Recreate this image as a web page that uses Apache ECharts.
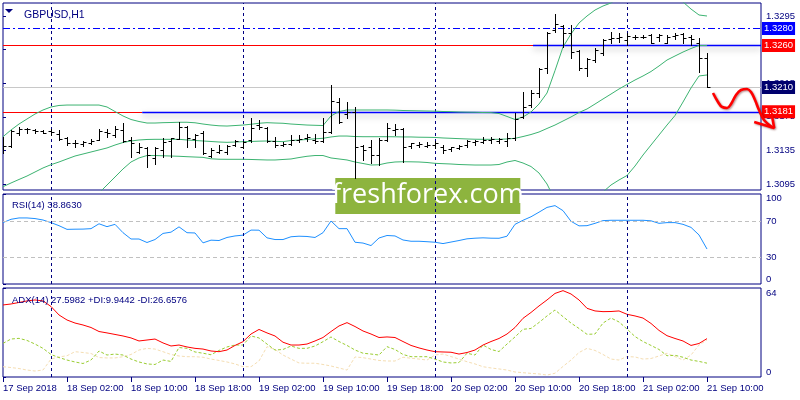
<!DOCTYPE html>
<html>
<head>
<meta charset="utf-8">
<script src="https://cdn.jsdelivr.net/npm/echarts@6/dist/echarts.min.js"></script>
<style>html,body{margin:0;padding:0;background:#fff}#c{width:800px;height:400px}</style>
</head>
<body>
<div id="c"></div>
<script>
// ---- data (hourly bars, GBPUSD H1) ----
const timeLabels = ['17 Sep 2018','18 Sep 02:00','18 Sep 10:00','18 Sep 18:00','19 Sep 02:00','19 Sep 10:00','19 Sep 18:00','20 Sep 02:00','20 Sep 10:00','20 Sep 18:00','21 Sep 02:00','21 Sep 10:00'];
const barsPerLabel = 8;
const daySeparators = [6, 30, 54, 78];

const open = [1.31379,1.31402,1.31561,1.31601,1.31593,1.31577,1.31581,1.31545,1.31494,1.31442,
1.31426,1.31442,1.31474,1.31573,1.31533,1.31593,1.31474,1.31335,1.31375,1.31256,
1.31355,1.31462,1.31486,1.31625,1.31486,1.31561,1.31283,1.31335,1.31335,1.31414,
1.31394,1.31474,1.31652,1.31613,1.31466,1.31414,1.31426,1.31474,1.31494,1.31474,
1.31462,1.31573,1.31930,1.31780,1.31804,1.31402,1.31394,1.31295,1.31474,1.31593,
1.31605,1.31406,1.31414,1.31406,1.31414,1.31387,1.31363,1.31375,1.31414,1.31454,
1.31454,1.31474,1.31466,1.31466,1.31494,1.31744,1.31890,1.32030,1.32327,1.32783,
1.32835,1.32744,1.32533,1.32335,1.32426,1.32506,1.32673,1.32685,1.32664,1.32696,
1.32696,1.32724,1.32696,1.32632,1.32712,1.32732,1.32696,1.32632,1.32446];
const high = [1.31513,1.31593,1.31625,1.31613,1.31605,1.31593,1.31608,1.31593,1.31513,1.31474,
1.31466,1.31482,1.31601,1.31601,1.31640,1.31673,1.31513,1.31435,1.31394,1.31394,
1.31494,1.31494,1.31692,1.31640,1.31545,1.31585,1.31375,1.31414,1.31414,1.31474,
1.31466,1.31732,1.31712,1.31632,1.31506,1.31454,1.31533,1.31533,1.31542,1.31542,
1.31732,1.32129,1.31970,1.31923,1.31870,1.31414,1.31474,1.31494,1.31673,1.31661,
1.31613,1.31435,1.31454,1.31454,1.31462,1.31414,1.31394,1.31414,1.31474,1.31474,
1.31513,1.31513,1.31494,1.31561,1.31799,1.32049,1.32069,1.32327,1.32763,1.32974,
1.32843,1.32843,1.32545,1.32446,1.32565,1.32673,1.32763,1.32744,1.32744,1.32724,
1.32724,1.32736,1.32736,1.32724,1.32744,1.32751,1.32724,1.32685,1.32506];
const low = [1.31316,1.31394,1.31533,1.31554,1.31554,1.31554,1.31533,1.31474,1.31414,1.31387,
1.31402,1.31426,1.31474,1.31513,1.31513,1.31454,1.31275,1.31323,1.31149,1.31188,
1.31275,1.31275,1.31482,1.31394,1.31394,1.31307,1.31268,1.31316,1.31307,1.31402,
1.31375,1.31454,1.31601,1.31454,1.31394,1.31402,1.31414,1.31454,1.31462,1.31435,
1.31454,1.31554,1.31673,1.31732,1.31018,1.31236,1.31196,1.31176,1.31462,1.31533,
1.31216,1.31375,1.31394,1.31394,1.31375,1.31323,1.31347,1.31363,1.31394,1.31414,
1.31442,1.31442,1.31442,1.31402,1.31474,1.31732,1.31870,1.31989,1.32268,1.32760,
1.32585,1.32446,1.32307,1.32236,1.32406,1.32486,1.32632,1.32644,1.32605,1.32673,
1.32685,1.32625,1.32656,1.32625,1.32673,1.32625,1.32605,1.32287,1.32100];
const close = [1.31402,1.31581,1.31601,1.31601,1.31585,1.31561,1.31573,1.31482,1.31442,1.31435,
1.31454,1.31466,1.31581,1.31554,1.31601,1.31466,1.31435,1.31394,1.31295,1.31375,
1.31454,1.31492,1.31632,1.31494,1.31533,1.31323,1.31355,1.31355,1.31402,1.31462,
1.31454,1.31613,1.31632,1.31462,1.31414,1.31426,1.31474,1.31486,1.31513,1.31466,
1.31573,1.31938,1.31692,1.31811,1.31394,1.31355,1.31295,1.31474,1.31613,1.31605,
1.31394,1.31435,1.31423,1.31414,1.31435,1.31355,1.31387,1.31402,1.31466,1.31462,
1.31474,1.31482,1.31482,1.31494,1.31720,1.31870,1.32030,1.32315,1.32751,1.32855,
1.32744,1.32525,1.32327,1.32435,1.32545,1.32664,1.32685,1.32696,1.32712,1.32704,
1.32704,1.32632,1.32724,1.32696,1.32724,1.32685,1.32673,1.32446,1.32100];

const bbMid = [1.30918,1.30962,1.31004,1.31045,1.31093,1.31141,1.31180,1.31212,1.31248,1.31283,
1.31307,1.31331,1.31355,1.31379,1.31414,1.31444,1.31462,1.31474,1.31480,1.31482,
1.31482,1.31482,1.31482,1.31474,1.31468,1.31462,1.31456,1.31450,1.31446,1.31450,
1.31454,1.31456,1.31460,1.31462,1.31458,1.31454,1.31468,1.31474,1.31480,1.31488,
1.31494,1.31510,1.31521,1.31521,1.31515,1.31513,1.31513,1.31513,1.31513,1.31512,
1.31510,1.31510,1.31507,1.31506,1.31504,1.31498,1.31494,1.31490,1.31486,1.31483,
1.31482,1.31482,1.31482,1.31486,1.31494,1.31515,1.31539,1.31569,1.31611,1.31652,
1.31700,1.31748,1.31801,1.31843,1.31902,1.31962,1.32021,1.32081,1.32135,1.32188,
1.32236,1.32289,1.32355,1.32426,1.32474,1.32521,1.32563,1.32599,1.32599];
const bbUp = [1.31513,1.31593,1.31664,1.31724,1.31783,1.31831,1.31867,1.31885,1.31890,1.31890,
1.31890,1.31890,1.31890,1.31867,1.31813,1.31760,1.31718,1.31694,1.31676,1.31676,
1.31680,1.31682,1.31685,1.31685,1.31679,1.31664,1.31652,1.31643,1.31640,1.31646,
1.31652,1.31661,1.31673,1.31680,1.31676,1.31673,1.31664,1.31658,1.31652,1.31649,
1.31646,1.31760,1.31813,1.31831,1.31831,1.31831,1.31831,1.31831,1.31831,1.31829,
1.31825,1.31823,1.31821,1.31819,1.31817,1.31813,1.31811,1.31807,1.31805,1.31804,
1.31801,1.31800,1.31789,1.31754,1.31718,1.31748,1.31807,1.31902,1.32033,1.32300,
1.32581,1.32736,1.32867,1.32950,1.33021,1.33069,1.33105,1.33164,1.33218,1.33212,
1.33176,1.33164,1.33176,1.33200,1.33182,1.33117,1.33033,1.32962,1.32950];
const bbLow = [1.30323,1.30331,1.30343,1.30367,1.30402,1.30450,1.30493,1.30539,1.30605,1.30676,
1.30724,1.30771,1.30843,1.30938,1.31033,1.31129,1.31212,1.31260,1.31289,1.31289,
1.31286,1.31283,1.31280,1.31275,1.31271,1.31267,1.31250,1.31245,1.31244,1.31244,
1.31244,1.31242,1.31239,1.31236,1.31236,1.31242,1.31248,1.31265,1.31280,1.31289,
1.31289,1.31260,1.31248,1.31236,1.31212,1.31194,1.31176,1.31179,1.31200,1.31212,
1.31215,1.31214,1.31212,1.31206,1.31196,1.31192,1.31188,1.31182,1.31179,1.31176,
1.31176,1.31176,1.31182,1.31212,1.31230,1.31200,1.31158,1.31081,1.30950,1.30760,
1.30581,1.30498,1.30462,1.30498,1.30640,1.30855,1.30938,1.30998,1.31051,1.31164,
1.31295,1.31414,1.31533,1.31652,1.31765,1.31926,1.32093,1.32236,1.32248];

const rsi = [68.2,71.9,73.4,73.4,72.7,71.1,68.2,64.8,60.7,60.9,
61.0,61.5,66.9,63.7,66.3,57.0,50.0,50.0,46.1,49.4,
56.2,57.6,63.5,57.0,56.7,45.7,48.7,48.3,51.7,53.4,
54.3,59.9,59.8,51.3,49.4,49.4,52.5,53.1,52.8,51.7,
57.0,70.0,61.5,61.5,46.4,45.5,42.7,51.1,53.9,53.4,
48.9,47.5,47.5,47.0,46.4,44.9,46.6,48.3,50.2,50.9,
51.3,50.9,50.8,53.1,66.3,70.8,74.7,79.8,85.1,87.1,
81.5,69.7,64.6,64.8,67.4,70.4,70.8,70.8,70.8,70.8,
70.8,70.2,67.4,68.2,68.2,66.3,62.9,54.5,38.863];
const adx = [51.8,52.5,53.6,54.7,55.4,54.7,50.7,44.6,41.0,38.8,
37.4,35.6,32.7,31.7,30.6,29.5,28.1,25.9,26.6,27.3,
24.5,22.3,23.0,21.6,20.6,20.1,18.7,18.2,19.4,22.7,
25.4,30.9,34.2,31.7,29.5,25.0,23.0,23.0,23.7,25.9,
28.4,32.7,36.7,39.1,36.3,33.1,30.9,28.4,28.8,28.4,
25.5,22.7,20.9,19.4,18.2,18.0,17.8,16.5,17.6,19.4,
23.0,25.5,27.7,30.9,35.6,42.2,46.4,51.1,55.4,60.1,
62.1,59.7,55.4,49.4,47.5,47.0,47.1,47.5,45.1,43.9,
42.4,38.5,33.5,29.7,27.7,25.9,22.7,24.1,27.598];
const plusDI = [24.2,27.3,27.8,26.3,23.7,20.6,16.2,14.0,12.2,10.8,
9.7,12.2,18.7,15.8,16.5,15.8,12.9,10.8,9.4,9.0,
12.2,11.2,21.2,20.6,18.0,17.1,16.0,19.1,21.6,23.0,
23.0,29.5,28.1,23.7,19.4,19.8,22.3,20.6,20.6,22.3,
25.4,28.8,25.5,22.7,19.4,17.1,16.5,15.8,21.8,19.8,
16.2,14.6,14.6,14.6,12.9,10.8,10.1,10.4,17.1,15.8,
23.0,19.8,18.3,23.7,28.8,34.3,34.9,39.2,43.9,48.2,
43.4,38.8,34.9,30.7,30.9,38.8,42.4,39.6,34.5,29.1,
25.5,22.7,19.8,15.3,15.6,14.2,12.2,11.2,9.944];
const minusDI = [7.4,6.8,6.1,5.0,4.3,5.0,12.9,14.4,15.3,18.2,
17.6,16.9,14.0,13.7,13.7,14.6,16.2,19.4,20.6,20.1,
18.2,16.2,15.1,14.6,14.6,14.2,12.9,11.9,10.8,9.4,
7.4,7.4,11.5,21.8,19.8,15.8,12.9,10.1,9.9,9.9,
9.0,7.9,6.5,5.0,14.4,13.9,12.9,11.9,11.5,11.5,
14.2,13.5,12.9,12.2,15.8,16.5,14.7,12.9,11.0,9.4,
7.4,6.5,5.8,5.0,3.6,3.1,2.6,2.2,1.4,2.7,
7.6,12.2,17.6,20.6,19.1,16.2,12.9,12.2,14.7,14.4,
12.9,13.3,15.1,17.1,14.7,12.2,15.8,23.0,26.658];

const priceTicks = [1.3095,1.3135,1.3175,1.3215,1.3255,1.3295];
const rsiTicks = [0,30,70,100];
const adxTicks = [0,64];
// horizontal levels
const levelDashDot = 1.3280;
const levelResist = 1.3260;
const levelBid = 1.3210;
const levelSupport = 1.3181;
const resistBlueFrom = 66.25, supportBlueFrom = 17.4;
// hand-drawn forecast arrow (bar index, price)
const arrowX = [88.75,89.375,89.875,90.5,91.0,91.625,92.25,93.0,93.5,94.0,94.5,95.125,96.1];
const arrowY = [1.32033,1.31926,1.31867,1.31855,1.31902,1.32010,1.32069,1.32081,1.32045,1.31950,1.31831,1.31712,1.31629];
const arrowHeadX = [93.9,96.4,96.1];
const arrowHeadY = [1.31688,1.31617,1.31771];

// ---- chart ----
const NAVY = '#000080';
const FONT = 'Liberation Sans, Arial, sans-serif';
const FS = 9.5;
const nSlots = 94.75;          // bar slots across the plot (8 px each)
const nSlotsWide = 99.625;     // same scale, extended under the price scale
const yMin = 1.308786, yMax = 1.331048;
const idx = open.map((_, i) => i);
const pair = arr => arr.map((v, i) => [i, v]);

const chart = echarts.init(document.getElementById('c'), null, {renderer: 'canvas'});

function ohlcRender(params, api) {
  const x = api.value(0);
  const o = api.coord([x, api.value(1)]);
  const h = api.coord([x, api.value(2)]);
  const l = api.coord([x, api.value(3)]);
  const c = api.coord([x, api.value(4)]);
  const px = Math.round(o[0]) + 0.5;
  const st = {stroke: '#000', lineWidth: 1};
  return {type: 'group', children: [
    {type: 'line', shape: {x1: px, y1: Math.round(h[1]), x2: px, y2: Math.round(l[1]) + 1}, style: st},
    {type: 'line', shape: {x1: px - 3, y1: Math.round(o[1]) + 0.5, x2: px, y2: Math.round(o[1]) + 0.5}, style: st},
    {type: 'line', shape: {x1: px, y1: Math.round(c[1]) + 0.5, x2: px + 3, y2: Math.round(c[1]) + 0.5}, style: st}
  ]};
}

const sepLines = daySeparators.map(v => ({xAxis: v, lineStyle: {color: NAVY, type: [3, 3], width: 1}, label: {show: false}}));
const tagLabel = (bg, val) => ({show: true, position: 'end', distance: 1, formatter: () => val.toFixed(4),
  backgroundColor: bg, color: '#fff', fontFamily: FONT, fontSize: FS, padding: [2, 2, 1, 2], borderRadius: 0});
const blueShadow = {color: '#0000FF', width: 1.3, type: 'solid', shadowColor: 'rgba(0,0,0,0.35)', shadowBlur: 6, shadowOffsetY: 3};
const redSolid = {color: '#FF0000', width: 1, type: 'solid'};

const xAxisBase = {type: 'value', min: 0, max: nSlots, axisLine: {show: false}, axisTick: {show: false}, axisLabel: {show: false}, splitLine: {show: false}};
const arrowStyle = {color: '#FF0000', width: 2.6, shadowColor: 'rgba(90,0,0,0.45)', shadowBlur: 2, shadowOffsetX: 1, shadowOffsetY: 1};

const option = {
  animation: false,
  backgroundColor: '#fff',
  title: [
    {text: 'GBPUSD,H1', left: 19, top: 5, textStyle: {color: NAVY, fontFamily: FONT, fontSize: FS + 1, fontWeight: 'normal'}},
    {text: 'RSI(14) 38.8630', left: 7, top: 195, textStyle: {color: NAVY, fontFamily: FONT, fontSize: FS, fontWeight: 'normal'}},
    {text: 'ADX(14) 27.5982 +DI:9.9442 -DI:26.6576', left: 7, top: 290, textStyle: {color: NAVY, fontFamily: FONT, fontSize: FS, fontWeight: 'normal'}}
  ],
  grid: [
    {left: 3, right: 39, top: 3, height: 187, show: true, borderColor: NAVY, borderWidth: 1, backgroundColor: 'transparent'},
    {left: 3, right: 39, top: 194, height: 90, show: true, borderColor: NAVY, borderWidth: 1, backgroundColor: 'transparent'},
    {left: 3, right: 39, top: 288, height: 89, show: true, borderColor: NAVY, borderWidth: 1, backgroundColor: 'transparent'},
    {left: 3, right: 0, top: 3, height: 187, show: false}
  ],
  xAxis: [
    Object.assign({gridIndex: 0}, xAxisBase),
    Object.assign({gridIndex: 1}, xAxisBase),
    {gridIndex: 2, type: 'value', min: 0, max: nSlots, position: 'bottom',
      axisLine: {show: false},
      axisTick: {show: true, length: 5, lineStyle: {color: NAVY}, customValues: timeLabels.map((_, k) => k * barsPerLabel)},
      axisLabel: {show: true, color: NAVY, fontFamily: FONT, fontSize: FS, align: 'left', margin: 6,
        customValues: timeLabels.map((_, k) => k * barsPerLabel),
        formatter: v => timeLabels[Math.round(v / barsPerLabel)] || ''},
      splitLine: {show: false}},
    Object.assign({gridIndex: 3}, xAxisBase, {max: nSlotsWide})
  ],
  yAxis: [
    {gridIndex: 0, type: 'value', position: 'right', min: yMin, max: yMax, scale: true,
      axisLine: {show: false}, splitLine: {show: false},
      axisTick: {show: true, length: 3, lineStyle: {color: NAVY}, customValues: priceTicks},
      axisLabel: {color: NAVY, fontFamily: FONT, fontSize: FS, margin: 5, customValues: priceTicks, formatter: v => v.toFixed(4)}},
    {gridIndex: 1, type: 'value', position: 'right', min: 0, max: 100,
      axisLine: {show: false}, splitLine: {show: false},
      axisTick: {show: true, length: 3, lineStyle: {color: NAVY}, customValues: rsiTicks},
      axisLabel: {color: NAVY, fontFamily: FONT, fontSize: FS, margin: 5, customValues: rsiTicks,
        formatter: v => v === 100 ? '{t|100}' : (v === 0 ? '{b|0}' : String(v)),
        rich: {t: {padding: [8, 0, 0, 0], color: NAVY, fontFamily: FONT, fontSize: FS}, b: {padding: [0, 0, 10, 0], color: NAVY, fontFamily: FONT, fontSize: FS}}}},
    {gridIndex: 2, type: 'value', position: 'right', min: 0, max: 64,
      axisLine: {show: false}, splitLine: {show: false},
      axisTick: {show: true, length: 3, lineStyle: {color: NAVY}, customValues: adxTicks},
      axisLabel: {color: NAVY, fontFamily: FONT, fontSize: FS, margin: 5, customValues: adxTicks,
        formatter: v => v === 64 ? '{t|64}' : '{b|0}',
        rich: {t: {padding: [10, 0, 0, 0], color: NAVY, fontFamily: FONT, fontSize: FS}, b: {padding: [0, 0, 10, 0], color: NAVY, fontFamily: FONT, fontSize: FS}}}},
    {gridIndex: 3, type: 'value', min: yMin, max: yMax, scale: true, show: false}
  ],
  series: [
    // Bollinger bands
    {type: 'line', xAxisIndex: 0, yAxisIndex: 0, data: pair(bbUp), showSymbol: false, lineStyle: {color: '#3CB371', width: 1}, z: 2},
    {type: 'line', xAxisIndex: 0, yAxisIndex: 0, data: pair(bbLow), showSymbol: false, lineStyle: {color: '#3CB371', width: 1}, z: 2},
    {type: 'line', xAxisIndex: 0, yAxisIndex: 0, data: pair(bbMid), showSymbol: false, lineStyle: {color: '#3CB371', width: 1}, z: 2,
      markLine: {silent: true, symbol: ['none', 'none'], animation: false, precision: 5, z: 1,
        data: sepLines.concat([
          {yAxis: levelDashDot, lineStyle: {color: '#0000FF', type: [7, 3, 2, 3], width: 1}, label: tagLabel('#0000FF', levelDashDot)},
          {yAxis: levelBid, lineStyle: {color: '#C8C8C8', type: 'solid', width: 1}, label: tagLabel('#00006E', levelBid)},
          [{coord: [0, levelResist], lineStyle: redSolid, label: {show: false}}, {coord: [resistBlueFrom, levelResist]}],
          [{coord: [0, levelSupport], lineStyle: redSolid, label: {show: false}}, {coord: [supportBlueFrom, levelSupport]}],
          [{coord: [resistBlueFrom, levelResist], lineStyle: blueShadow, label: tagLabel('#FF0000', levelResist)}, {coord: [nSlots, levelResist]}],
          [{coord: [supportBlueFrom, levelSupport], lineStyle: blueShadow, label: tagLabel('#FF0000', levelSupport)}, {coord: [nSlots, levelSupport]}]
        ])}},
    // OHLC bars
    {type: 'custom', xAxisIndex: 0, yAxisIndex: 0, renderItem: ohlcRender,
      data: idx.map(i => [i, open[i], high[i], low[i], close[i]]), encode: {x: 0, y: [1, 2, 3, 4]}, z: 5, clip: true},
    // forecast arrow (drawn on an overlay grid with the same scales, reaching under the price labels)
    {type: 'line', xAxisIndex: 3, yAxisIndex: 3, data: arrowX.map((x, k) => [x, arrowY[k]]), smooth: 0.4, showSymbol: false,
      lineStyle: arrowStyle, z: 20},
    {type: 'line', xAxisIndex: 3, yAxisIndex: 3, data: arrowHeadX.map((x, k) => [x, arrowHeadY[k]]), showSymbol: false,
      lineStyle: arrowStyle, z: 20},
    // RSI
    {type: 'line', xAxisIndex: 1, yAxisIndex: 1, data: pair(rsi), showSymbol: false, lineStyle: {color: '#1E90FF', width: 1}, z: 3,
      markLine: {silent: true, symbol: ['none', 'none'], animation: false, precision: 5,
        data: [
          {yAxis: 70, lineStyle: {color: '#C0C0C0', type: [4, 3], width: 1}, label: {show: false}},
          {yAxis: 30, lineStyle: {color: '#C0C0C0', type: [4, 3], width: 1}, label: {show: false}}
        ].concat(sepLines)}},
    // ADX
    {type: 'line', xAxisIndex: 2, yAxisIndex: 2, data: pair(minusDI), showSymbol: false, lineStyle: {color: '#F5DEB3', width: 1, type: [3, 2]}, z: 2},
    {type: 'line', xAxisIndex: 2, yAxisIndex: 2, data: pair(plusDI), showSymbol: false, lineStyle: {color: '#9ACD32', width: 1, type: [3, 2]}, z: 3},
    {type: 'line', xAxisIndex: 2, yAxisIndex: 2, data: pair(adx), showSymbol: false, lineStyle: {color: '#FF0000', width: 1}, z: 4,
      markLine: {silent: true, symbol: ['none', 'none'], animation: false, precision: 5, data: sepLines}}
  ],
  graphic: [
    {type: 'polygon', shape: {points: [[5, 9], [13, 9], [9, 13]]}, style: {fill: NAVY}, z: 50},
    {type: 'group', left: 332, top: 178, z: 100, children: [
      {type: 'rect', shape: {x: 0, y: 0, width: 185, height: 36}, style: {fill: '#8DB43E'}},
      {type: 'text', x: 92.5, y: 17, style: {text: 'freshforex.com', fill: '#fff', font: '27px "Open Sans", sans-serif', align: 'center', verticalAlign: 'middle'}}
    ]}
  ]
};
chart.setOption(option);
</script>
</body>
</html>
